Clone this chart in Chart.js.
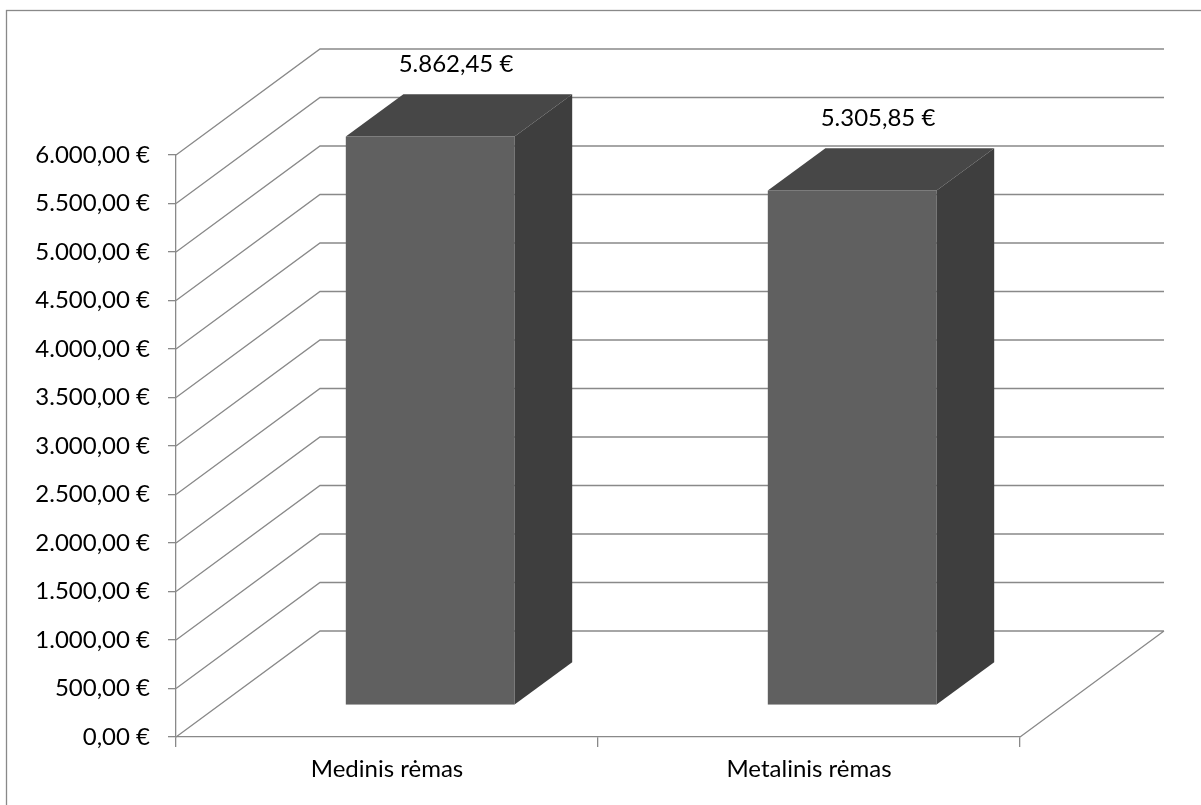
<!DOCTYPE html>
<html>
<head>
<meta charset="utf-8">
<script src="https://cdn.jsdelivr.net/npm/chart.js@4.4.1/dist/chart.umd.min.js"></script>
<style>
  html, body { margin: 0; padding: 0; background: #fff; }
  canvas { display: block; }
</style>
</head>
<body>
<canvas id="frameChart" width="1201" height="805"></canvas>
<script>
// Frame cost comparison
const categories = ['Medinis rėmas', 'Metalinis rėmas'];
const costs = [5862.45, 5305.85];
const axisMin = 0;
const axisMax = 6000;
const axisStep = 500;

// 3D look: how far the back wall sits behind the front plane
const DEPTH_X = 144;
const DEPTH_Y = 106;
// bars occupy the middle slice of the depth
const BAR_FRONT = 0.3;
const BAR_BACK = 0.7;

const GRID_COLOR = '#898989';
const FACE_FRONT = '#606060';
const FACE_TOP = '#474747';
const FACE_SIDE = '#3e3e3e';

function euro(v) {
    const [whole, dec] = Number(v).toFixed(2).split('.');
    return whole.replace(/\B(?=(\d{3})+(?!\d))/g, '.') + ',' + dec + ' €';
}

const box3d = {
    id: 'box3d',
    beforeDraw(chart) {
        // chart frame
        const ctx = chart.ctx;
        ctx.save();
        ctx.strokeStyle = GRID_COLOR;
        ctx.lineWidth = 1.3;
        ctx.strokeRect(6.5, 10.5, chart.width, chart.height);
        ctx.restore();
    },
    beforeDatasetsDraw(chart) {
        const { ctx, chartArea: a, scales: { y } } = chart;
        ctx.save();
        ctx.strokeStyle = GRID_COLOR;
        ctx.lineWidth = 1.3;
        ctx.beginPath();
        // side wall diagonals + back wall grid lines
        y.ticks.forEach(t => {
            const py = y.getPixelForValue(t.value);
            ctx.moveTo(a.left, py);
            ctx.lineTo(a.left + DEPTH_X, py - DEPTH_Y);
            ctx.lineTo(a.right + DEPTH_X, py - DEPTH_Y);
        });
        // floor right edge
        const y0 = y.getPixelForValue(axisMin);
        ctx.moveTo(a.right, y0);
        ctx.lineTo(a.right + DEPTH_X, y0 - DEPTH_Y);
        ctx.stroke();
        ctx.restore();
    },
    beforeDatasetDraw() {
        // flat bars are replaced by the boxes below
        return false;
    },
    afterDatasetsDraw(chart) {
        const ctx = chart.ctx;
        const meta = chart.getDatasetMeta(0);
        const dX = (BAR_BACK - BAR_FRONT) * DEPTH_X;
        const dY = (BAR_BACK - BAR_FRONT) * DEPTH_Y;
        ctx.save();
        meta.data.forEach((bar, i) => {
            const w = bar.width;
            const fx = bar.x - w / 2 + BAR_FRONT * DEPTH_X;
            const ft = bar.y - BAR_FRONT * DEPTH_Y;
            const fb = bar.base - BAR_FRONT * DEPTH_Y;

            // front
            ctx.fillStyle = FACE_FRONT;
            ctx.fillRect(fx, ft, w, fb - ft);

            // top
            ctx.fillStyle = FACE_TOP;
            ctx.beginPath();
            ctx.moveTo(fx, ft);
            ctx.lineTo(fx + dX, ft - dY);
            ctx.lineTo(fx + w + dX, ft - dY);
            ctx.lineTo(fx + w, ft);
            ctx.closePath();
            ctx.fill();

            // side
            ctx.fillStyle = FACE_SIDE;
            ctx.beginPath();
            ctx.moveTo(fx + w, ft);
            ctx.lineTo(fx + w + dX, ft - dY);
            ctx.lineTo(fx + w + dX, fb - dY);
            ctx.lineTo(fx + w, fb);
            ctx.closePath();
            ctx.fill();

            // value label
            ctx.fillStyle = '#000';
            ctx.font = '24px Lato';
            ctx.textAlign = 'center';
            ctx.textBaseline = 'middle';
            ctx.fillText(euro(costs[i]), fx + w / 2 + dX / 2 - 3, ft - dY - 30);
        });
        ctx.restore();
    }
};

Chart.defaults.font.family = 'Lato';
Chart.defaults.font.size = 24;
Chart.defaults.color = '#000';

new Chart(document.getElementById('frameChart'), {
    type: 'bar',
    data: {
        labels: categories,
        datasets: [{
            data: costs,
            backgroundColor: FACE_FRONT,
            barPercentage: 0.4,
            categoryPercentage: 1.0
        }]
    },
    options: {
        responsive: false,
        animation: false,
        devicePixelRatio: 1,
        layout: {
            padding: { top: 155, right: 181, left: 0, bottom: 0 }
        },
        plugins: {
            legend: { display: false },
            tooltip: { enabled: false }
        },
        scales: {
            x: {
                grid: {
                    drawOnChartArea: false,
                    tickLength: 10,
                    color: GRID_COLOR,
                    lineWidth: 1.3,
                    offset: true
                },
                border: { color: GRID_COLOR, width: 1.3 },
                ticks: { padding: 8, maxRotation: 0 },
                afterFit(scale) { scale.height = 68; }
            },
            y: {
                min: axisMin,
                max: axisMax,
                grid: {
                    drawOnChartArea: false,
                    tickLength: 8,
                    color: GRID_COLOR,
                    lineWidth: 1.3
                },
                border: { color: GRID_COLOR, width: 1.3 },
                ticks: {
                    stepSize: axisStep,
                    padding: 18,
                    callback: v => euro(v)
                },
                afterFit(scale) { scale.width = 176; }
            }
        }
    },
    plugins: [box3d]
});
</script>
</body>
</html>
